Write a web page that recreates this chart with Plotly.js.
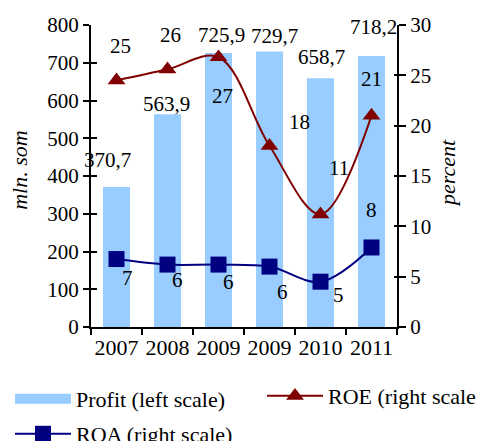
<!DOCTYPE html>
<html>
<head>
<meta charset="utf-8">
<script src="https://cdn.plot.ly/plotly-3.0.1.min.js"></script>
<style>
  html, body { margin: 0; padding: 0; background: #fff; }
  #chart { width: 480px; height: 441px; }
</style>
</head>
<body>
<div id="chart"></div>
<script>
// data
const years = ['2007', '2008', '2009', '2009', '2010', '2011'];
const profit = [370.7, 563.9, 725.9, 729.7, 658.7, 718.2];      // mln. som, left scale
const roe = [24.5, 25.6, 26.8, 18.0, 11.2, 21.0];               // percent, right scale
const roeLabels = ['25', '26', '27', '18', '11', '21'];
const roa = [6.75, 6.2, 6.2, 6.0, 4.5, 7.9];                    // percent, right scale
const roaLabels = ['7', '6', '6', '6', '5', '8'];

// label offsets in px (relative to the mark)
const profitShift = [[-9, 27], [-1, 10], [3, 18], [5, 16], [1, 21], [2, 29]];
const roeShift = [[4, 34], [3, 34], [4, -39], [30, 24], [18, 46], [0, 37]];
const roaShift = [[11, -19], [10, -15], [10, -17], [13, -25], [18, -13], [0, 37]];

const FONT = "'Liberation Serif', 'Times New Roman', Times, serif";
const BLUE = '#99ccff', RED = '#800000', NAVY = '#000080';
const idx = years.map((_, i) => i);
const bounds = [-0.5].concat(idx.map(i => i + 0.5));

const traces = [
  {
    type: 'bar', name: 'Profit (left scale)',
    x: idx, y: profit, yaxis: 'y',
    marker: { color: BLUE }, showlegend: false,
    hoverinfo: 'skip'
  },
  {
    type: 'scatter', mode: 'lines+markers', name: 'ROE (right scale',
    x: idx, y: roe, yaxis: 'y2', legend: 'legend2',
    line: { color: RED, width: 2, shape: 'spline', smoothing: 1 },
    marker: { symbol: 'triangle-up', size: 15.5, color: RED },
    cliponaxis: false
  },
  {
    type: 'scatter', mode: 'lines+markers', name: 'ROA (right scale)',
    x: idx, y: roa, yaxis: 'y2', legend: 'legend3',
    line: { color: NAVY, width: 2, shape: 'spline', smoothing: 1 },
    marker: { symbol: 'square', size: 16, color: NAVY },
    cliponaxis: false
  },
  // legend key for the bars: a wide band like the original
  {
    type: 'scatter', mode: 'lines', name: 'Profit (left scale)',
    x: [null], y: [null], legend: 'legend',
    line: { color: BLUE, width: 16 }, hoverinfo: 'skip'
  }
];

const annotations = [];
const lab = (x, y, yref, text, s) => annotations.push({
  x: x, y: y, xref: 'x', yref: yref, text: text, showarrow: false,
  xanchor: 'center', yanchor: 'middle', xshift: s[0], yshift: s[1],
  font: { family: FONT, size: 21, color: '#000' }
});
idx.forEach(i => {
  lab(i, profit[i], 'y', profit[i].toFixed(1).replace('.', ','), profitShift[i]);
  lab(i, roe[i], 'y2', roeLabels[i], roeShift[i]);
  lab(i, roa[i], 'y2', roaLabels[i], roaShift[i]);
});

// axis titles (drawn as rotated paper annotations, margins are fixed)
const axisTitle = (text, x, y) => annotations.push({
  xref: 'paper', yref: 'paper', x: x, y: y, text: text, textangle: -90,
  showarrow: false, xanchor: 'center', yanchor: 'middle',
  font: { family: FONT, size: 22, style: 'italic', color: '#000' }
});
axisTitle('mln. som', -0.232, 0.517);
axisTitle('percent', 1.167, 0.51);

const legendBase = {
  xref: 'container', yref: 'container', xanchor: 'left', yanchor: 'middle',
  itemwidth: 56, font: { family: FONT, size: 22, color: '#000' }, bgcolor: 'rgba(0,0,0,0)'
};

const layout = {
  width: 480, height: 441,
  margin: { l: 91, r: 83, t: 25, b: 114, autoexpand: false },
  paper_bgcolor: '#fff', plot_bgcolor: '#fff',
  font: { family: FONT, size: 21, color: '#000' },
  bargap: 0.47,
  showlegend: true,
  xaxis: {
    range: [-0.5, 5.5], tickvals: idx, ticktext: years, ticks: '',
    showline: true, linecolor: '#000', linewidth: 2, showgrid: false, zeroline: false,
    tickfont: { size: 22 }
  },
  xaxis2: {
    overlaying: 'x', anchor: 'y', side: 'bottom', range: [-0.5, 5.5],
    tickvals: bounds, ticks: 'outside', ticklen: 7, tickwidth: 2, tickcolor: '#000',
    showticklabels: false, showgrid: false, zeroline: false
  },
  yaxis: {
    range: [0, 800], dtick: 100, ticks: 'outside', ticklen: 6, tickwidth: 2, tickcolor: '#000',
    showline: true, linecolor: '#000', linewidth: 2, showgrid: false, zeroline: false
  },
  yaxis2: {
    overlaying: 'y', side: 'right', anchor: 'x', range: [0, 30], dtick: 5,
    ticks: 'outside', ticklen: 7, tickwidth: 2, tickcolor: '#000',
    showline: true, linecolor: '#000', linewidth: 2, showgrid: false, zeroline: false
  },
  yaxis3: {
    overlaying: 'y', side: 'left', anchor: 'x', range: [0, 800], dtick: 100,
    ticks: 'inside', ticklen: 6, tickwidth: 2, tickcolor: '#000',
    showticklabels: false, showgrid: false, zeroline: false
  },
  yaxis4: {
    overlaying: 'y', side: 'right', anchor: 'x', range: [0, 30], dtick: 5,
    ticks: 'inside', ticklen: 3, tickwidth: 2, tickcolor: '#000',
    showticklabels: false, showgrid: false, zeroline: false
  },
  legend: Object.assign({}, legendBase, { x: 10 / 480, y: 1 - 399 / 441 }),
  legend2: Object.assign({}, legendBase, { x: 262 / 480, y: 1 - 396 / 441 }),
  legend3: Object.assign({}, legendBase, { x: 10 / 480, y: 1 - 434 / 441 }),
  annotations: annotations
};

// empty traces so the overlay tick axes get drawn
traces.push({ type: 'scatter', x: [], y: [], xaxis: 'x2', yaxis: 'y', showlegend: false, hoverinfo: 'skip' });
traces.push({ type: 'scatter', x: [], y: [], yaxis: 'y3', showlegend: false, hoverinfo: 'skip' });
traces.push({ type: 'scatter', x: [], y: [], yaxis: 'y4', showlegend: false, hoverinfo: 'skip' });

Plotly.newPlot('chart', traces, layout, { displayModeBar: false, staticPlot: true });
</script>
</body>
</html>
